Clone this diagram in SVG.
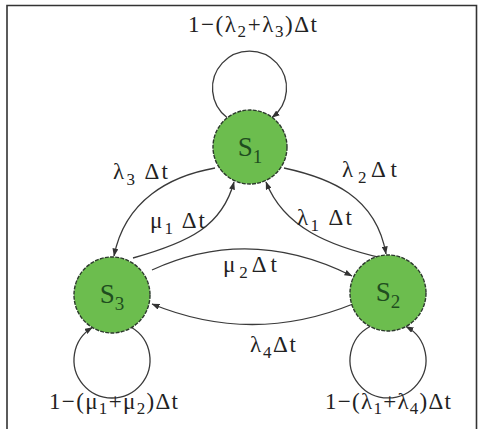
<svg xmlns="http://www.w3.org/2000/svg" width="485" height="429" viewBox="0 0 485 429">
<defs>
<marker id="arr" viewBox="0 0 8 6" refX="7.5" refY="3" markerWidth="8" markerHeight="6" markerUnits="userSpaceOnUse" orient="auto">
<path d="M0,0 L8,3 L0,6 z" fill="#333"/>
</marker>
</defs>
<style>
.frame{fill:none;stroke:#333;stroke-width:1.6}
.node{fill:#6cbd4e;stroke:#2b3a2b;stroke-width:1.4;stroke-dasharray:4 1.2}
.nl{font-family:"Liberation Serif",serif;font-size:27px;fill:#1f4d1f;text-anchor:middle}
.nsub{font-size:19px}
.edge{fill:none;stroke:#3a3a3a;stroke-width:1.3;marker-end:url(#arr)}
.lbl{font-family:"Liberation Serif",serif;font-size:23px;fill:#222}
.sub{font-size:17px}
</style>
<rect width="485" height="429" fill="#fff"/>
<path class="frame" d="M7,429 V5.5 H476.5 V429"/>
<g id="connectors">
<path class="edge" d="M227,117.5 A37,37 0 1 1 272,117.5"/>
<path class="edge" d="M131.7,327.5 A38,38 0 1 1 92.3,327.5"/>
<path class="edge" d="M370,326.5 A38,38 0 1 0 406,326.5"/>
<path class="edge" d="M215,168 C170,176 125,200 114,256"/>
<path class="edge" d="M133,258 C190,242 222,226 234,182"/>
<path class="edge" d="M284,168 C330,178 376,196 386,254"/>
<path class="edge" d="M382,258 C330,246 284,228 266,182"/>
<path class="edge" d="M152,270 Q250,225 352,276"/>
<path class="edge" d="M353,304 Q252,345 152,304"/>
</g>
<g id="labels">
<text class="lbl" x="188" y="32" textLength="129" lengthAdjust="spacing">1−(λ<tspan class="sub" dy="5">2</tspan><tspan dy="-5">+λ</tspan><tspan class="sub" dy="5">3</tspan><tspan dy="-5">)Δt</tspan></text>
<text class="lbl" x="113" y="179" textLength="55" lengthAdjust="spacing">λ<tspan class="sub" dy="6">3</tspan><tspan dy="-6"> Δt</tspan></text>
<text class="lbl" x="150" y="228" textLength="55" lengthAdjust="spacing">μ<tspan class="sub" dy="6">1</tspan><tspan dy="-6"> Δt</tspan></text>
<text class="lbl" x="342" y="177" textLength="55" lengthAdjust="spacing">λ<tspan class="sub" dy="6">2</tspan><tspan dy="-6">Δt</tspan></text>
<text class="lbl" x="297" y="225" textLength="55" lengthAdjust="spacing">λ<tspan class="sub" dy="6">1</tspan><tspan dy="-6"> Δt</tspan></text>
<text class="lbl" x="223" y="272" textLength="54" lengthAdjust="spacing">μ<tspan class="sub" dy="6">2</tspan><tspan dy="-6">Δt</tspan></text>
<text class="lbl" x="250" y="352" textLength="46" lengthAdjust="spacing">λ<tspan class="sub" dy="6">4</tspan><tspan dy="-6">Δt</tspan></text>
<text class="lbl" x="49" y="409" textLength="129" lengthAdjust="spacing">1−(μ<tspan class="sub" dy="5">1</tspan><tspan dy="-5">+μ</tspan><tspan class="sub" dy="5">2</tspan><tspan dy="-5">)Δt</tspan></text>
<text class="lbl" x="325" y="409" textLength="126" lengthAdjust="spacing">1−(λ<tspan class="sub" dy="5">1</tspan><tspan dy="-5">+λ</tspan><tspan class="sub" dy="5">4</tspan><tspan dy="-5">)Δt</tspan></text>
</g>
<g id="S1">
<circle class="node" cx="250" cy="147" r="37"/>
<text class="nl" x="250" y="156">S<tspan class="nsub" dy="7">1</tspan></text>
</g>
<g id="S3">
<circle class="node" cx="112" cy="295" r="38"/>
<text class="nl" x="112" y="303">S<tspan class="nsub" dy="7">3</tspan></text>
</g>
<g id="S2">
<circle class="node" cx="388" cy="293" r="38"/>
<text class="nl" x="388" y="301">S<tspan class="nsub" dy="7">2</tspan></text>
</g>
</svg>
